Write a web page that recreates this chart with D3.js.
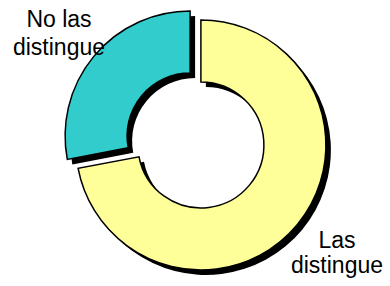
<!DOCTYPE html>
<html lang="es">
<head>
	<meta charset="utf-8" />
	<title>Las distingue</title>
	<script src="https://cdnjs.cloudflare.com/ajax/libs/d3/7.8.5/d3.min.js"></script>
	<style>
		body { margin: 0; background: #fff; }
		svg { display: block; }
		text { font-family: Arial, "Liberation Sans", sans-serif; font-size: 23px; fill: #000; }
	</style>
</head>
<body>
	<svg width="390" height="286"></svg>
	<script>
		const categories = ["Las distingue", "No las distingue"];
		const values = [72, 28];
		const labelLines = [["Las", "distingue"], ["No las", "distingue"]];

		const colors = d3.scaleOrdinal()
			.domain(categories)
			.range(["#FFFF99", "#33CCCC"]);

		const cx = 195.5, cy = 140.5;
		const outerR = 125, innerR = 63;
		const explode = 7;
		const shadow = 5;

		// label anchor points (x, first baseline)
		const labelPos = [[337, 248], [59, 27]];
		const lineGap = [25, 28];

		let svg = d3.select('svg');

		let pie = d3.pie().sort(null).value(d => d.value);
		let arc = d3.arc().innerRadius(innerR).outerRadius(outerR);

		let slices = pie(categories.map((c, i) => ({ name: c, value: values[i] })));

		function offset(d) {
			let a = (d.startAngle + d.endAngle) / 2;
			return [cx + explode * Math.sin(a), cy - explode * Math.cos(a)];
		}

		let g = svg.append('g');

		// shadows first
		g.selectAll('path.shadow')
			.data(slices)
			.enter()
			.append('path')
			.attr('class', 'shadow')
			.attr('d', arc)
			.attr('fill', '#000')
			.attr('transform', d => {
				let p = offset(d);
				return `translate(${p[0] + shadow},${p[1] + shadow})`;
			});

		g.selectAll('path.slice')
			.data(slices)
			.enter()
			.append('path')
			.attr('class', 'slice')
			.attr('d', arc)
			.attr('fill', d => colors(d.data.name))
			.attr('stroke', '#000')
			.attr('stroke-width', 1.5)
			.attr('stroke-linejoin', 'miter')
			.attr('transform', d => {
				let p = offset(d);
				return `translate(${p[0]},${p[1]})`;
			});

		labelLines.forEach((lines, i) => {
			let t = svg.append('text')
				.attr('text-anchor', 'middle');
			lines.forEach((line, j) => {
				t.append('tspan')
					.attr('x', labelPos[i][0])
					.attr('y', labelPos[i][1] + j * lineGap[i])
					.text(line);
			});
		});
	</script>
</body>
</html>
